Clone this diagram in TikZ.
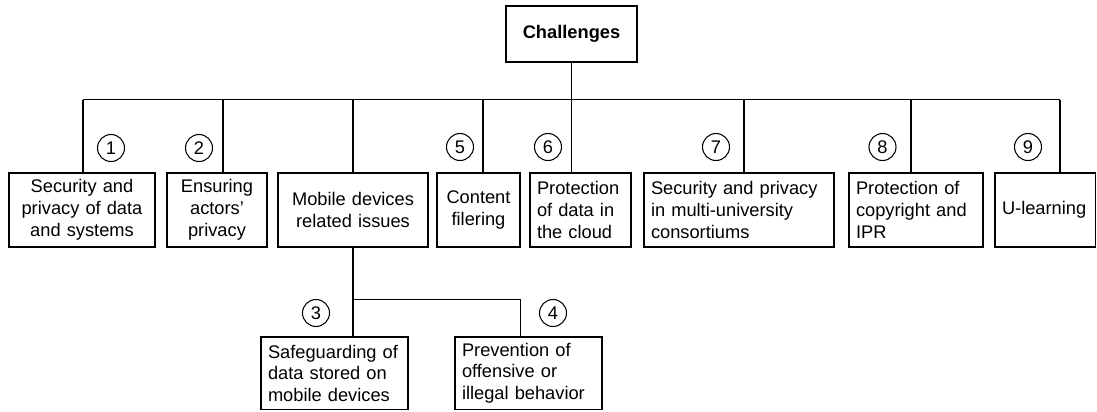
\documentclass[tikz,border=0pt]{standalone}
\usepackage{fontspec}
\setmainfont{Liberation Sans}
\begin{document}
\begin{tikzpicture}[x=0.75pt,y=-0.75pt,
  txt/.style={font=\fontsize{13.7}{16.3}\selectfont},
  box/.style={txt, draw, line width=0.8pt, rectangle, inner xsep=5.25pt, inner ysep=0pt, minimum height=55.5pt},
  lbox/.style={box, align=left},
  cbox/.style={box, align=center},
  lowbox/.style={lbox, minimum height=54.375pt, text width=99.75pt, minimum width=110.25pt},
  num/.style={txt, draw, circle, line width=0.8pt, minimum size=20.25pt, inner sep=0pt},
  link/.style={line width=0.8pt}]
\useasboundingbox (0,0) rectangle (1097,411);

% root
\node[box, minimum width=98.25pt, minimum height=42pt, font=\fontsize{13.7}{16.3}\selectfont\bfseries] (ch) at (571.5,34) {Challenges};

% top row
\node[cbox, text width=99pt, minimum width=109.5pt] (b1) at (82,210) {Security and\\privacy of data\\and systems};
\node[cbox, text width=64.5pt, minimum width=75pt] (b2) at (217,210) {Ensuring\\actors'\\privacy};
\node[cbox, text width=102pt, minimum width=112.5pt] (b3) at (353,210) {Mobile devices\\related issues};
\node[cbox, text width=51.75pt, minimum width=62.25pt] (b5) at (478.5,210) {Content\\filering};
\node[lbox, text width=65.25pt, minimum width=75.75pt] (b6) at (580.5,210) {Protection\\of data in\\the cloud};
\node[lbox, text width=132pt, minimum width=142.5pt] (b7) at (739,210) {Security and privacy\\in multi-university\\consortiums};
\node[lbox, text width=90pt, minimum width=100.5pt] (b8) at (916,210) {Protection of\\copyright and\\IPR};
\node[lbox, text width=64.875pt, minimum width=75.375pt] (b9) at (1045.25,210) {U-learning};

% bottom row
\node[lowbox] (s1) at (334.5,373.25) {Safeguarding of\\data stored on\\mobile devices};
\node[lowbox] (s2) at (528.5,373.25) {Prevention of\\offensive or\\illegal behavior};

% bus coordinates
\coordinate (bus) at (571.6,99.5);
\coordinate (d1) at (83,99.5);
\coordinate (d2) at (223,99.5);
\coordinate (d3) at (353,99.5);
\coordinate (d5) at (483,99.5);
\coordinate (d6) at (571.6,99.5);
\coordinate (d7) at (744,99.5);
\coordinate (d8) at (911,99.5);
\coordinate (d9) at (1060,99.5);
\coordinate (m) at (353,299.5);
\coordinate (m4) at (520.5,299.5);

% connectors
\draw[link] (ch.south) -- (ch.south |- bus);
\draw[link] (d1) -- (d9);
\draw[link] (d1) -- (d1 |- b1.north);
\draw[link] (d2) -- (d2 |- b2.north);
\draw[link] (d3) -- (b3.north);
\draw[link] (d5) -- (d5 |- b5.north);
\draw[link] (d6) -- (d6 |- b6.north);
\draw[link] (d7) -- (d7 |- b7.north);
\draw[link] (d8) -- (d8 |- b8.north);
\draw[link] (d9) -- (d9 |- b9.north);
\draw[link] (b3.south) -- (m |- s1.north);
\draw[link] (m) -- (m4) -- (m4 |- s2.north);

% numbers
\node[num] (n1) at (111,148) {1};
\node[num] (n2) at (199,148) {2};
\node[num] (n5) at (460,147) {5};
\node[num] (n6) at (548,147) {6};
\node[num] (n7) at (716,147) {7};
\node[num] (n8) at (882.5,147) {8};
\node[num] (n9) at (1028,147) {9};
\node[num] (n3) at (316,313) {3};
\node[num] (n4) at (553,313) {4};
\end{tikzpicture}
\end{document}
